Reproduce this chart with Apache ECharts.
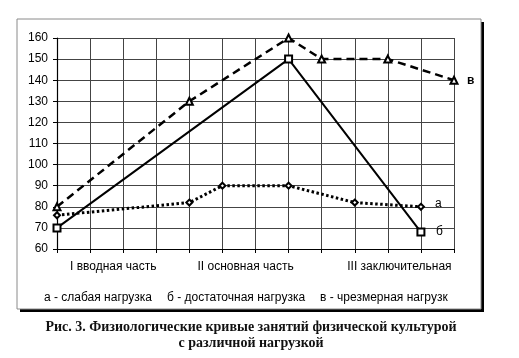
<!DOCTYPE html>
<html>
<head>
<meta charset="utf-8">
<script src="https://cdn.jsdelivr.net/npm/echarts@6/dist/echarts.min.js"></script>
<style>
html,body{margin:0;padding:0;background:#fff;}
#chart{width:519px;height:358px;}
</style>
</head>
<body>
<div id="chart"></div>
<script>
// ---- data ----
const xTickLabels = ['I вводная часть', 'II основная часть', 'III заключительная'];
const xTickLabelAt = [1.7, 5.7, 10.35];
const seriesNames = ['а - слабая нагрузка', 'б - достаточная нагрузка', 'в - чрезмерная нагрузк'];
const endTags = ['а', 'б', 'в'];
const aX = [0, 4, 5, 7, 9, 11];
const aY = [76, 82, 90, 90, 82, 80];
const bX = [0, 7, 11];
const bY = [70, 150, 68];
const vX = [0, 4, 7, 8, 10, 12];
const vY = [80, 130, 160, 150, 150, 140];
const captionLines = ['Рис. 3. Физиологические кривые занятий физической культурой', 'с различной нагрузкой'];

const pairs = (xs, ys) => xs.map((x, i) => [x, ys[i]]);
const FONT = '"Liberation Sans", Arial, sans-serif';

const chart = echarts.init(document.getElementById('chart'), null, {renderer: 'canvas'});
chart.setOption({
  animation: false,
  backgroundColor: '#fff',
  graphic: [
    {type: 'rect', z: -20, shape: {x: 20, y: 22, width: 464, height: 290}, style: {fill: '#000'}},
    {type: 'rect', z: -19, shape: {x: 17, y: 19, width: 464, height: 290}, style: {fill: '#fff', stroke: '#8a8a8a', lineWidth: 1}}
  ],
  title: {
    text: captionLines.join('\n'),
    left: 246, textAlign: 'center', top: 314,
    textStyle: {fontFamily: '"Liberation Serif", "Times New Roman", serif', fontWeight: 'bold', fontSize: 14, lineHeight: 16, color: '#111'}
  },
  legend: {
    left: 39, top: 292, padding: 0, itemGap: 10, itemWidth: 0, itemHeight: 0,
    icon: 'none', selectedMode: false,
    data: seriesNames.map(n => ({name: n, icon: 'none'})),
    textStyle: {fontFamily: FONT, fontSize: 12, color: '#000'}
  },
  grid: {left: 57, right: 65, top: 38, bottom: 109, containLabel: false},
  xAxis: {
    type: 'value', min: 0, max: 12, interval: 1,
    axisLine: {lineStyle: {color: '#000', width: 1.2}},
    axisTick: {show: true, length: 4, lineStyle: {color: '#000'}},
    splitLine: {show: true, lineStyle: {color: '#444', width: 1}},
    axisLabel: {
      customValues: xTickLabelAt,
      margin: 12,
      fontFamily: FONT, fontSize: 12, color: '#000',
      formatter: v => {
        const i = xTickLabelAt.findIndex(p => Math.abs(p - v) < 1e-6);
        return i >= 0 ? xTickLabels[i] : '';
      }
    }
  },
  yAxis: {
    type: 'value', min: 60, max: 160, interval: 10,
    axisLine: {show: true, lineStyle: {color: '#000', width: 1.2}},
    axisTick: {show: true, length: 4, lineStyle: {color: '#000'}},
    splitLine: {show: true, lineStyle: {color: '#444', width: 1}},
    axisLabel: {margin: 9, fontFamily: FONT, fontSize: 12, color: '#000'}
  },
  series: [
    {
      name: seriesNames[0], type: 'line', data: pairs(aX, aY), z: 3,
      symbol: 'emptyDiamond', symbolSize: 6,
      lineStyle: {color: '#000', width: 3, type: [2.5, 2.5]},
      itemStyle: {color: '#000', borderWidth: 1},
      endLabel: {show: true, formatter: endTags[0], distance: 14, offset: [0, -3], fontFamily: FONT, fontSize: 12, color: '#000'}
    },
    {
      name: seriesNames[1], type: 'line', data: pairs(bX, bY), z: 4,
      symbol: 'emptyRect', symbolSize: 7,
      lineStyle: {color: '#000', width: 2},
      itemStyle: {color: '#000', borderWidth: 1.2},
      endLabel: {show: true, formatter: endTags[1], distance: 15, fontFamily: FONT, fontSize: 12, color: '#000'}
    },
    {
      name: seriesNames[2], type: 'line', data: pairs(vX, vY), z: 5,
      symbol: 'emptyTriangle', symbolSize: 7,
      lineStyle: {color: '#000', width: 2.5, type: [8, 5]},
      itemStyle: {color: '#000', borderWidth: 1},
      endLabel: {show: true, formatter: endTags[2], distance: 13, fontFamily: FONT, fontSize: 12, fontWeight: 'bold', color: '#000'}
    }
  ]
});
</script>
</body>
</html>
